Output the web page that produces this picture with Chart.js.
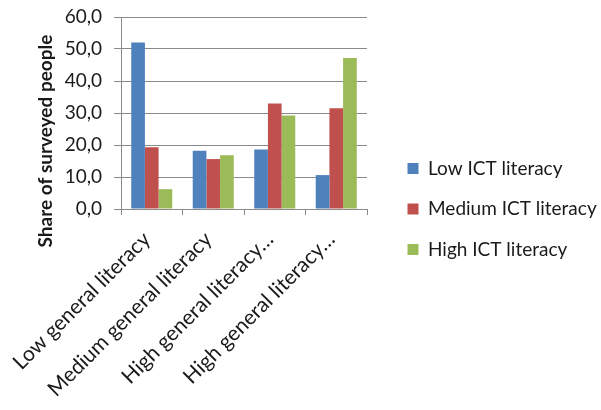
<!DOCTYPE html>
<html>
<head>
<meta charset="utf-8">
<script src="https://cdn.jsdelivr.net/npm/chart.js@4/dist/chart.umd.min.js"></script>
<style>
  html, body { margin: 0; padding: 0; background: #fff; }
  #wrap { width: 601px; height: 410px; }
</style>
</head>
<body>
<div id="wrap"><canvas id="literacy_chart"></canvas></div>
<script>
const categories = [
  "Low general literacy",
  "Medium general literacy",
  "High general literacy…",
  "High general literacy…",
];
const lowIct = [52.0, 18.2, 18.6, 10.6];
const mediumIct = [19.3, 15.6, 33.0, 31.5];
const highIct = [6.2, 16.8, 29.2, 47.2];
const seriesNames = ["Low ICT literacy", "Medium ICT literacy", "High ICT literacy"];
const yTicks = [0, 10, 20, 30, 40, 50, 60];

const FONT = "Lato, 'Open Sans', sans-serif";
const TEXT = "#1a1a1a";
const GRID = "#8a8a8a";
const LEGEND_WIDTH = 234;
const LEGEND_SHIFT = 19;

// vertical axis title, sits a bit lower than the plot centre
const yTitle = {
  id: "yTitle",
  afterDraw(chart) {
    const ctx = chart.ctx;
    ctx.save();
    ctx.translate(46, 141);
    ctx.rotate(-Math.PI / 2);
    ctx.font = "bold 19px " + FONT;
    ctx.fillStyle = TEXT;
    ctx.textAlign = "center";
    ctx.textBaseline = "middle";
    ctx.fillText("Share of surveyed people", 0, 0);
    ctx.restore();
  },
};

// fixed legend column with some air between the plot and the legend boxes
const legendGap = {
  id: "legendGap",
  afterInit(chart) {
    const legend = chart.legend;
    const fit = legend.fit;
    legend.fit = function () {
      fit.call(this);
      this.width = LEGEND_WIDTH;
    };
  },
  afterLayout(chart) {
    chart.legend.left += LEGEND_SHIFT;
    chart.legend.right += LEGEND_SHIFT;
  },
};

(function () {
  const ctx = document.getElementById("literacy_chart").getContext("2d");
  const chart = new Chart(ctx, {
    type: "bar",
    data: {
      labels: categories,
      datasets: [
        { label: seriesNames[0], data: lowIct, backgroundColor: "#4F81BD" },
        { label: seriesNames[1], data: mediumIct, backgroundColor: "#C0504D" },
        { label: seriesNames[2], data: highIct, backgroundColor: "#9BBB59" },
      ],
    },
    options: {
      responsive: true,
      maintainAspectRatio: false,
      animation: false,
      datasets: {
        bar: { categoryPercentage: 0.667, barPercentage: 1.0 },
      },
      layout: { padding: { left: 0, right: 0, top: 17, bottom: 9 } },
      plugins: {
        tooltip: { enabled: false },
        legend: {
          position: "right",
          maxWidth: 400,
          labels: {
            font: { family: FONT, size: 19 },
            color: TEXT,
            boxWidth: 11,
            boxHeight: 11,
            padding: 21.5,
          },
        },
      },
      scales: {
        x: {
          grid: {
            drawOnChartArea: false,
            drawTicks: true,
            tickLength: 6,
            color: GRID,
          },
          border: { display: true, color: GRID },
          ticks: {
            autoSkip: false,
            minRotation: 45,
            maxRotation: 45,
            padding: 12,
            labelOffset: -5,
            color: TEXT,
            font: { family: FONT, size: 21 },
          },
          afterFit(scale) {
            // rotated labels may run past the left edge, let them
            scale.height = 192;
            scale.paddingLeft = 0;
            scale.paddingRight = 0;
          },
        },
        y: {
          min: yTicks[0],
          max: yTicks[yTicks.length - 1],
          afterBuildTicks(scale) {
            scale.ticks = yTicks.map((v) => ({ value: v }));
          },
          grid: { color: GRID, tickLength: 7 },
          border: { display: true, color: GRID },
          ticks: {
            padding: 12,
            color: TEXT,
            font: { family: FONT, size: 19 },
            callback: (v) => v.toFixed(1).replace(".", ","),
          },
          afterFit(scale) {
            scale.width = 121;
            scale.paddingTop = 0;
            scale.paddingBottom = 0;
          },
        },
      },
    },
    plugins: [yTitle, legendGap],
  });
})();
</script>
</body>
</html>
